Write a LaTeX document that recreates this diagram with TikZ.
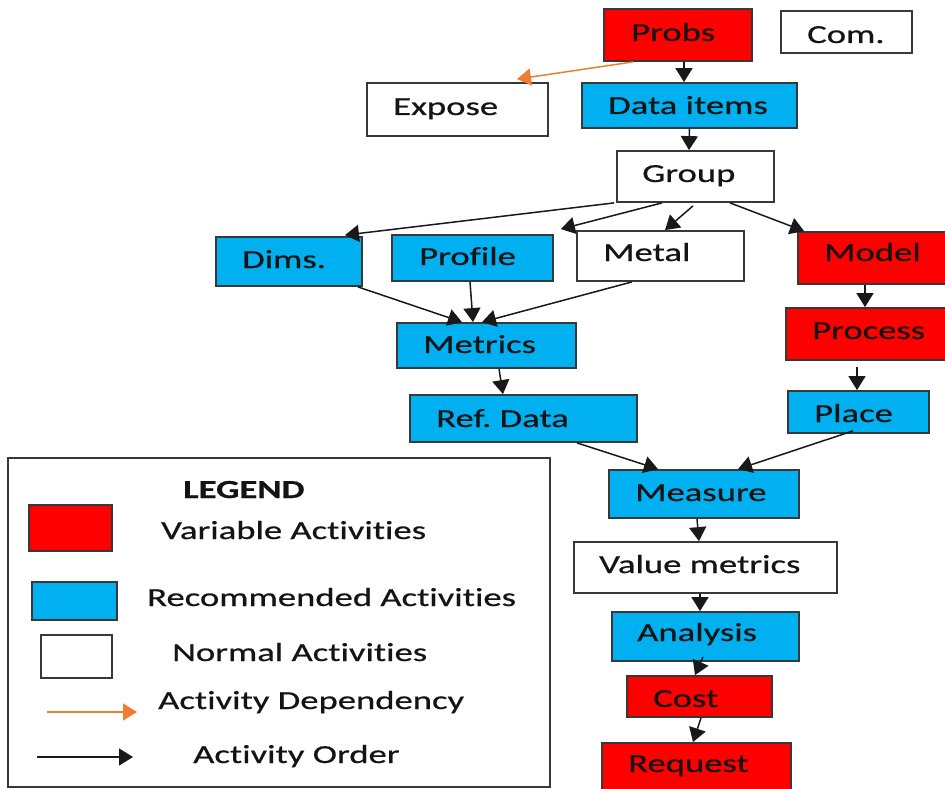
\documentclass[tikz,border=0pt]{standalone}
\usepackage{fontspec}
\setmainfont{Carlito}[FakeStretch=1.41, FakeBold=0.6, Ligatures={NoCommon}]
\usetikzlibrary{arrows.meta,calc}
\definecolor{vred}{HTML}{FF0000}
\definecolor{rblue}{HTML}{00B0F0}
\definecolor{depcol}{HTML}{ED7D31}
\definecolor{edgecol}{HTML}{383838}
\definecolor{txtcol}{HTML}{141414}
\frenchspacing
\begin{document}
\begin{tikzpicture}[x=1pt,y=-1pt,
  act/.style={draw=edgecol, line width=1.8pt, inner sep=0pt, rectangle},
  varact/.style={act, fill=vred},
  recact/.style={act, fill=rblue},
  noract/.style={act, fill=white},
  lbl/.style={anchor=base west, inner sep=0pt, text=txtcol, font=\fontsize{26}{30}\selectfont},
  ord/.style={draw=black!90, line width=1.5pt, -{Triangle[length=14pt,width=17pt]}},
  depa/.style={draw=depcol, line width=1.5pt, -{Triangle[length=14pt,width=17pt]}},
]
\path[use as bounding box, clip] (0,0) rectangle (945,789);
\fill[white] (0,0) rectangle (945,789);

% activity boxes
\node[varact, minimum width=148pt, minimum height=52pt] (probs) at (678,35) {};
\node[noract, minimum width=131pt, minimum height=42pt] (com) at (846.5,32) {};
\node[noract, minimum width=181pt, minimum height=53pt] (expose) at (457.5,109.5) {};
\node[recact, minimum width=215pt, minimum height=45pt] (data) at (689.5,105.5) {};
\node[noract, minimum width=157pt, minimum height=51pt] (group) at (695.5,176.5) {};
\node[recact, minimum width=146pt, minimum height=49pt] (dims) at (289,261.5) {};
\node[recact, minimum width=161pt, minimum height=46pt] (profile) at (472.5,258) {};
\node[noract, minimum width=167pt, minimum height=50pt] (metal) at (660.5,256) {};
\node[varact, minimum width=162pt, minimum height=52pt] (model) at (879,258) {};
\node[varact, minimum width=174pt, minimum height=52pt] (process) at (873,334) {};
\node[recact, minimum width=179pt, minimum height=45pt] (metrics) at (486.5,345.5) {};
\node[recact, minimum width=227pt, minimum height=47pt] (refdata) at (523.5,418.5) {};
\node[recact, minimum width=141pt, minimum height=42pt] (place) at (858.5,412) {};
\node[recact, minimum width=190pt, minimum height=48pt] (measure) at (704,494) {};
\node[noract, minimum width=263pt, minimum height=51pt] (value) at (705.5,567.5) {};
\node[recact, minimum width=187pt, minimum height=49pt] (analysis) at (705.5,636.5) {};
\node[varact, minimum width=145pt, minimum height=41pt] (cost) at (699.5,696.5) {};
\node[varact, minimum width=189pt, minimum height=57pt] (request) at (696.5,771.5) {};

% labels
\node[lbl] (probs-t) at (631,41) {Probs};
\node[lbl] (com-t) at (807,43) {Com.};
\node[lbl] (expose-t) at (393,115) {Expose};
\node[lbl] (data-t) at (608,114) {Data items};
\node[lbl] (group-t) at (642,182) {Group};
\node[lbl] (dims-t) at (242,268) {Dims.};
\node[lbl] (profile-t) at (419,265) {Profile};
\node[lbl] (metal-t) at (603,261) {Metal};
\node[lbl] (model-t) at (824,261) {Model};
\node[lbl] (process-t) at (812,339) {Process};
\node[lbl] (metrics-t) at (423,353) {Metrics};
\node[lbl] (refdata-t) at (436,427) {Ref. Data};
\node[lbl] (place-t) at (814,422) {Place};
\node[lbl] (measure-t) at (635,501) {Measure};
\node[lbl] (value-t) at (599,573) {Value metrics};
\node[lbl] (analysis-t) at (637,641) {Analysis};
\node[lbl] (cost-t) at (653,707) {Cost};
\node[lbl] (request-t) at (628,772) {Request};

% connectors
\draw[depa] ([xshift=-45pt]probs.south) -- ([xshift=59.5pt,yshift=3pt]expose.north);
\draw[ord] ([xshift=6pt]probs.south) -- ([xshift=-5.5pt]data.north);
\draw[ord] (data.south) -- ([xshift=-6.5pt]group.north);
\draw[ord] ([xshift=-2pt]group.south west) -- ([xshift=56pt,yshift=1pt]dims.north);
\draw[ord] ([xshift=-33.5pt]group.south) -- ([xshift=7pt,yshift=5pt]profile.north east);
\draw[ord] ([xshift=-2.5pt,yshift=-3pt]group.south) -- ([xshift=4.5pt]metal.north);
\draw[ord] ([xshift=34.5pt]group.south) -- ([xshift=7pt]model.north west);
\draw[ord] ([xshift=-5pt]dims.south east) -- ([xshift=-24.5pt]metrics.north);
\draw[ord] ([xshift=-2.5pt]profile.south) -- ([xshift=-13.5pt]metrics.north);
\draw[ord] ([xshift=-28.5pt]metal.south) -- ([xshift=-4.5pt]metrics.north);
\draw[ord] ([xshift=12.5pt]metrics.south) -- ([xshift=-20.5pt]refdata.north);
\draw[ord] ([xshift=-14pt]model.south) -- ([xshift=-8pt]process.north);
\draw[ord] ([xshift=-16pt,yshift=-6pt]process.south) -- ([xshift=-1.5pt]place.north);
\draw[ord] ([xshift=53.5pt]refdata.south) -- ([xshift=-46pt]measure.north);
\draw[ord] ([xshift=-5.5pt,yshift=3pt]place.south) -- ([xshift=34pt]measure.north);
\draw[ord] ([xshift=-7pt]measure.south) -- ([xshift=-6.5pt]value.north);
\draw[ord] ([xshift=-5.5pt]value.south) -- ([xshift=-5.5pt]analysis.north);
\draw[ord] ([xshift=-2.5pt,yshift=5pt]analysis.south) -- ([xshift=-4.5pt]cost.north);
\draw[ord] ([xshift=1.5pt]cost.south) -- ([xshift=-3.5pt]request.north);

% legend
\node[draw=edgecol, line width=1.8pt, minimum width=542pt, minimum height=329pt, inner sep=0pt] (legend) at (279,622.5) {};
\node[lbl, font=\fontsize{26}{30}\selectfont\bfseries] (legend-t) at (183,498) {LEGEND};
\node[varact, minimum width=83pt, minimum height=46pt] (lg-var) at (70.5,528) {};
\node[recact, minimum width=85pt, minimum height=38pt] (lg-rec) at (74.5,601) {};
\node[noract, minimum width=71pt, minimum height=43pt] (lg-nor) at (76.5,656.5) {};
\node[lbl] (lg-var-t) at (161,539) {Variable Activities};
\node[lbl] (lg-rec-t) at (147,606) {Recommended Activities};
\node[lbl] (lg-nor-t) at (172,661) {Normal Activities};
\node[lbl] (lg-dep-t) at (158,709) {Activity Dependency};
\node[lbl] (lg-ord-t) at (193,763) {Activity Order};
\coordinate (dep-a) at (47,712);
\coordinate (dep-b) at (137,712);
\coordinate (ord-a) at (37,757);
\coordinate (ord-b) at (133,757);
\draw[depa] (dep-a) -- (dep-b);
\draw[ord] (ord-a) -- (ord-b);
\end{tikzpicture}
\end{document}
